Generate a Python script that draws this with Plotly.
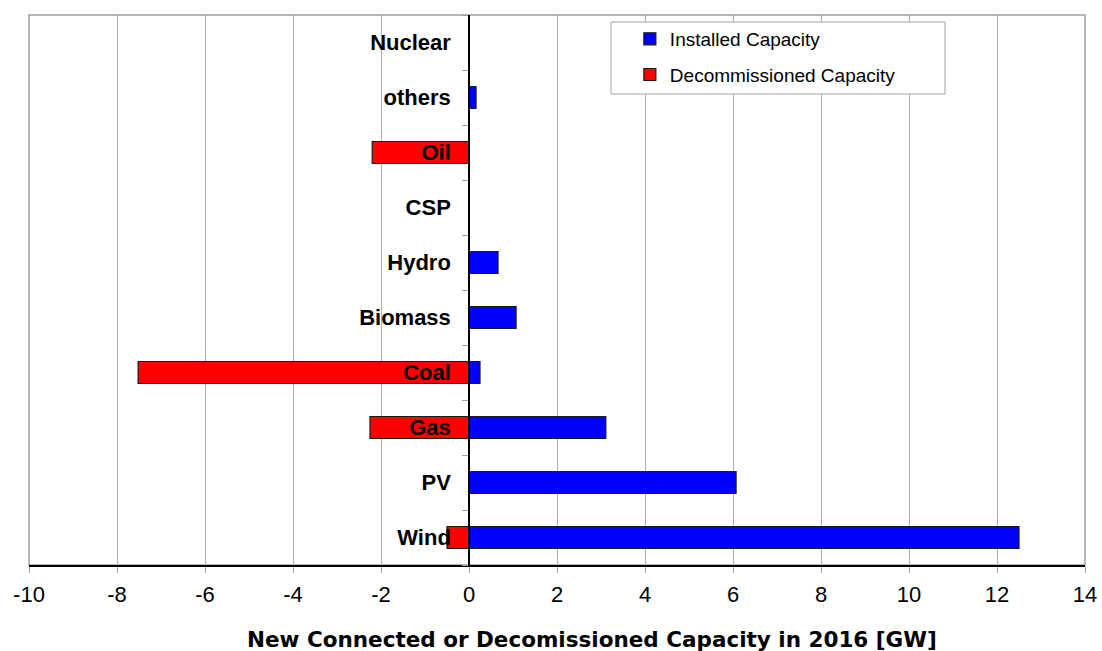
import plotly.graph_objects as go

categories = ["Wind", "PV", "Gas", "Coal", "Biomass", "Hydro", "CSP", "Oil", "others", "Nuclear"]
installed = [12.5, 6.07, 3.11, 0.25, 1.07, 0.66, None, None, 0.16, None]
decommissioned = [-0.5, None, -2.25, -7.52, None, None, None, -2.2, None, None]
x_ticks = list(range(-10, 15, 2))
x_title = "New Connected or Decomissioned Capacity in 2016 [GW]"

FONT = "Arial, Liberation Sans, sans-serif"

fig = go.Figure()
fig.add_trace(go.Bar(
    y=categories, x=installed, orientation="h", name="Installed Capacity",
    marker=dict(color="#0000FF", line=dict(color="#1a1a1a", width=1.2)),
    legendgroup="a",
))
fig.add_trace(go.Bar(
    y=categories, x=decommissioned, orientation="h", name="Decommissioned Capacity",
    marker=dict(color="#FF0000", line=dict(color="#1a1a1a", width=1.2)),
    legendgroup="b",
))

x0_frac = (0 - (-10)) / 24

fig.update_layout(
    width=1102, height=651,
    margin=dict(l=29, r=17, t=15, b=86, autoexpand=False),
    paper_bgcolor="white", plot_bgcolor="white",
    barmode="overlay", bargap=0.6,
    font=dict(family=FONT, color="black"),
    showlegend=True,
    legend=dict(
        x=0.569, y=0.991, xanchor="left", yanchor="top",
        bgcolor="rgba(0,0,0,0)", borderwidth=0,
        font=dict(size=19, family=FONT),
        traceorder="grouped", tracegroupgap=8,
        itemwidth=30,
    ),
    xaxis=dict(
        range=[-10, 14], tickvals=x_ticks, ticktext=[str(v) for v in x_ticks],
        showgrid=True, gridcolor="#b0b0b0", gridwidth=1,
        zeroline=False, automargin=False,
        showline=True, linecolor="black", linewidth=1.5,
        ticks="outside", ticklen=6, tickcolor="#a0a0a0",
        tickfont=dict(size=22, family=FONT),
        ticklabelstandoff=3,
        fixedrange=True,
    ),
    yaxis=dict(
        type="category", categoryorder="array", categoryarray=categories,
        anchor="free", position=x0_frac, automargin=False,
        showline=True, linecolor="black", linewidth=1.5,
        showgrid=False, zeroline=False,
        ticks="outside", tickson="boundaries", ticklen=6, tickcolor="#a0a0a0",
        tickfont=dict(size=22, family=FONT),
        ticklabelstandoff=13,
        tickprefix="<b>", ticksuffix="</b>",
        fixedrange=True,
    ),
    annotations=[
        dict(text="<b>" + x_title + "</b>", xref="paper", yref="paper",
             x=(592 - 29) / 1056, y=(565 - 639) / 550, xanchor="center", yanchor="middle",
             showarrow=False, font=dict(size=21.5, family="DejaVu Sans, sans-serif")),
    ],
    shapes=[
        dict(type="rect", xref="paper", yref="paper", x0=0, x1=1, y0=0, y1=1,
             line=dict(color="#a0a0a0", width=1.5), fillcolor="rgba(0,0,0,0)", layer="below"),
        dict(type="rect", xref="paper", yref="paper",
             x0=(611 - 29) / 1056, x1=(945 - 29) / 1056,
             y0=(565 - 94) / 550, y1=(565 - 22) / 550,
             line=dict(color="#a0a0a0", width=1), fillcolor="white", layer="above"),
    ],
)

fig.write_html("out.html", config={"displayModeBar": False},
               post_script="document.body.style.margin='0';document.body.style.padding='0';")
